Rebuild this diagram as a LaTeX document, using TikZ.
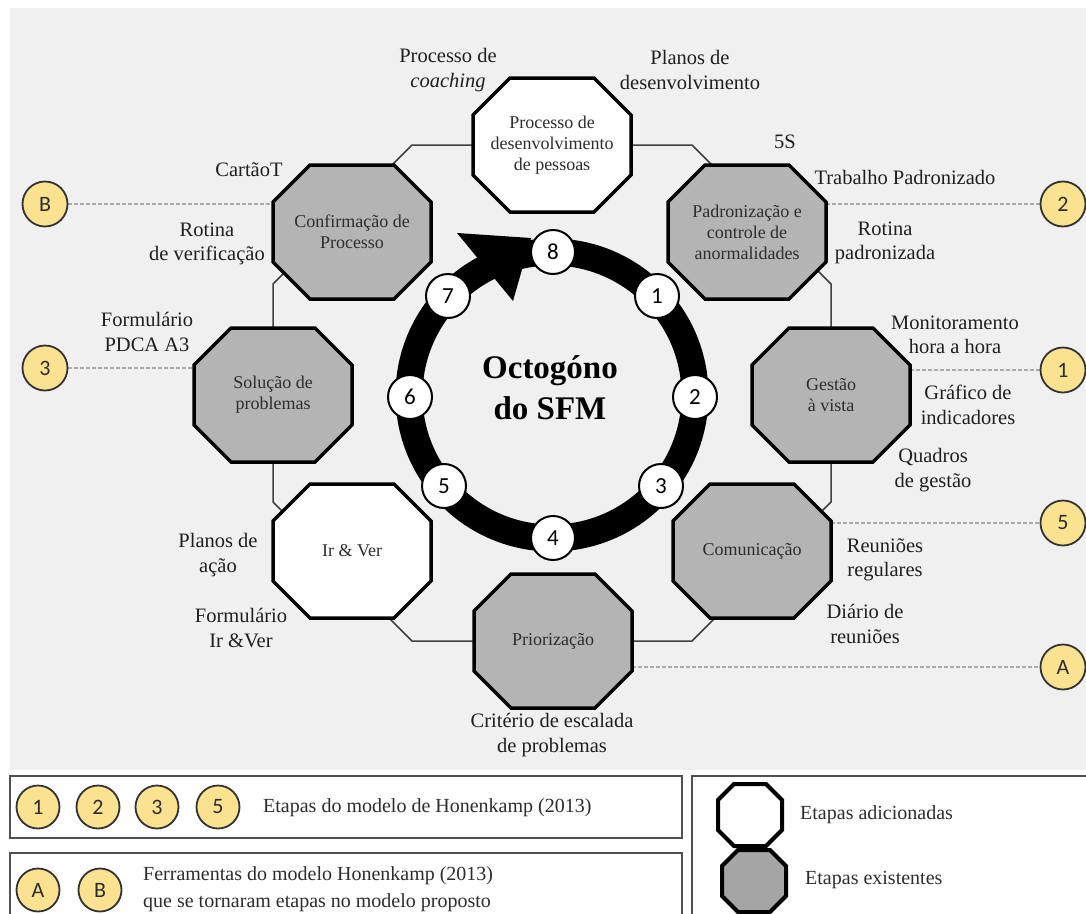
\documentclass[tikz,border=0pt]{standalone}
\usepackage{fontspec}
\setmainfont{Liberation Serif}
\newfontfamily\lblfont{Liberation Serif}
\newfontfamily\digitfont{Carlito}
\usetikzlibrary{backgrounds}
\definecolor{bggrey}{RGB}{240,240,240}
\definecolor{octgrey}{RGB}{180,180,180}
\definecolor{legoct}{RGB}{165,165,165}
\definecolor{circyellow}{RGB}{250,226,145}
\definecolor{txtdark}{RGB}{45,45,45}
\definecolor{dashgrey}{RGB}{170,170,170}
\definecolor{boxline}{RGB}{80,80,80}
\tikzset{
  octline/.style={line width=3.5pt, draw=black, line join=miter},
  octtext/.style={align=center, text=txtdark, font=\lblfont\fontsize{18}{21}\selectfont, inner sep=0pt},
  lbl/.style={align=center, text=black!88, font=\lblfont\fontsize{20.5}{24.5}\selectfont, inner sep=0pt},
  legtext/.style={align=left, anchor=west, text=txtdark, font=\lblfont\fontsize{20}{27}\selectfont, inner sep=0pt},
  conn/.style={draw=black!75, line width=1.5pt},
  guide/.style={draw=dashgrey, line width=1.2pt, dash pattern=on 4pt off 2pt},
  numc/.style={circle, draw=black, line width=2pt, fill=white, minimum size=44pt, inner sep=0pt, font=\digitfont\fontsize{23}{23}\selectfont},
  tagc/.style={circle, draw=black!80, line width=1.8pt, fill=circyellow, minimum size=45pt, inner sep=0pt, font=\digitfont\fontsize{22}{22}\selectfont, text=txtdark},
  legbox/.style={draw=boxline, line width=2pt, fill=white},
}
\newcommand\octnode[4]{%
  \filldraw[octline, fill=#3, shift={(#2)}] (-42,-67) -- (42,-67) -- (79,-30) -- (79,30) -- (42,67) -- (-42,67) -- (-79,30) -- (-79,-30) -- cycle;
  \node[octtext] (#1) at (#2) {#4};}
\begin{document}
\begin{tikzpicture}[x=1pt,y=-1pt]
\useasboundingbox (0,0) rectangle (1086,913);
\begin{pgfonlayer}{background}
\fill[bggrey] (10,8) rectangle (1086,770);
\end{pgfonlayer}

% octagon stages
\octnode{ntop}{552,145}{white}{Processo de\\desenvolvimento\\de pessoas}
\octnode{padr}{747,232}{octgrey}{Padronização e\\controle de\\anormalidades}
\octnode{gest}{831,395}{octgrey}{Gestão\\à vista}
\octnode{comu}{752,551}{octgrey}{Comunicação}
\octnode{prio}{553,641}{octgrey}{Priorização}
\octnode{irver}{352,551}{white}{Ir \& Ver}
\octnode{solu}{273,395}{octgrey}{Solução de\\problemas}
\octnode{conf}{352,232}{octgrey}{Confirmação de\\Processo}

% loop corners
\coordinate (c1) at (692,145); \coordinate (c1i) at (747,200);
\coordinate (c2i) at (790,243); \coordinate (c2) at (831,284);
\coordinate (c3) at (831,502); \coordinate (c3i) at (790,543);
\coordinate (c4i) at (731,602); \coordinate (c4) at (692,641);
\coordinate (c5) at (412,641); \coordinate (c5i) at (373,602);
\coordinate (c6i) at (314,543); \coordinate (c6) at (273,502);
\coordinate (c7) at (273,284); \coordinate (c7i) at (314,243);
\coordinate (c8i) at (357,200); \coordinate (c8) at (412,145);

\begin{pgfonlayer}{background}
\draw[conn] (ntop.center) -- (c1) -- (c1i) -- (padr.center);
\draw[conn] (padr.center) -- (c2i) -- (c2) -- (gest.center);
\draw[conn] (gest.center) -- (c3) -- (c3i) -- (comu.center);
\draw[conn] (comu.center) -- (c4i) -- (c4) -- (prio.center);
\draw[conn] (prio.center) -- (c5) -- (c5i) -- (irver.center);
\draw[conn] (irver.center) -- (c6i) -- (c6) -- (solu.center);
\draw[conn] (solu.center) -- (c7) -- (c7i) -- (conf.center);
\draw[conn] (conf.center) -- (c8i) -- (c8) -- (ntop.center);
\end{pgfonlayer}

% central ring
\coordinate (ring) at (552,395);
\draw[line width=27pt] (ring) circle[radius=143];
\fill (457,233) -- (531,238) -- (513,301) -- cycle;
\node[numc] (n8) at (553,252) {8};
\node[numc] (n1) at (657,296) {1};
\node[numc] (n2) at (695,397) {2};
\node[numc] (n3) at (661,486) {3};
\node[numc] (n4) at (553,538) {4};
\node[numc] (n5) at (444,486) {5};
\node[numc] (n6) at (410,397) {6};
\node[numc] (n7) at (448,296) {7};
\node[font=\lblfont\bfseries\fontsize{33}{41}\selectfont, align=center, inner sep=0pt] (title) at (550,388) {Octogóno\\do SFM};

% tool labels
\node[lbl] (lcoach) at (448,70) {Processo de\\\textit{coaching}};
\node[lbl] (lplanos) at (690,70) {Planos de\\desenvolvimento};
\node[lbl] (l5s) at (785,142) {5S};
\node[lbl] (lcartao) at (249,170) {CartãoT};
\node[lbl] (ltrab) at (905,177) {Trabalho Padronizado};
\node[lbl] (lrotv) at (207,244) {Rotina\\de verificação};
\node[lbl] (lrotp) at (885,243) {Rotina\\padronizada};
\node[lbl] (lpdca) at (147,332) {Formulário\\PDCA A3};
\node[lbl] (lmon) at (955,335) {Monitoramento\\hora a hora};
\node[lbl] (lgraf) at (968,405) {Gráfico de\\indicadores};
\node[lbl] (lquad) at (933,470) {Quadros\\de gestão};
\node[lbl] (lreun) at (885,560) {Reuniões\\regulares};
\node[lbl] (ldiar) at (865,624) {Diário de\\reuniões};
\node[lbl] (lplac) at (218,555) {Planos de\\ação};
\node[lbl] (lform) at (241,628) {Formulário\\Ir \&Ver};
\node[lbl] (lcrit) at (552,735) {Critério de escalada\\de problemas};

% model tags
\node[tagc] (tB) at (45,204) {B};
\node[tagc] (t2) at (1063,204) {2};
\node[tagc] (t3) at (45,368) {3};
\node[tagc] (t1) at (1063,370) {1};
\node[tagc] (t5) at (1063,523) {5};
\node[tagc] (tA) at (1063,667) {A};
\coordinate (gB) at (273,204);
\coordinate (g2) at (826,204);
\coordinate (g3) at (194,368);
\coordinate (g1) at (910,370);
\coordinate (g5) at (831,523);
\coordinate (gA) at (632,667);
\begin{pgfonlayer}{background}
\draw[guide] (tB.east) -- (gB);
\draw[guide] (g2) -- (t2.west);
\draw[guide] (t3.east) -- (g3);
\draw[guide] (g1) -- (t1.west);
\draw[guide] (g5) -- (t5.west);
\draw[guide] (gA) -- (tA.west);
\end{pgfonlayer}

% legend
\draw[legbox] (10,776) rectangle (682,838);
\draw[legbox] (10,853) rectangle (682,930);
\draw[legbox] (692,776) rectangle (1100,930);
\node[tagc, minimum size=43pt] (k1) at (38,807) {1};
\node[tagc, minimum size=43pt] (k2) at (98,807) {2};
\node[tagc, minimum size=43pt] (k3) at (157,807) {3};
\node[tagc, minimum size=43pt] (k5) at (218,807) {5};
\node[legtext] (e1) at (263,808) {Etapas do modelo de Honenkamp (2013)};
\node[tagc, minimum size=43pt] (kA) at (38,890) {A};
\node[tagc, minimum size=43pt] (kB) at (100,890) {B};
\node[legtext] (e2) at (143,889) {Ferramentas do modelo Honenkamp (2013)\\que se tornaram etapas no modelo proposto};
\filldraw[octline, line width=4pt, fill=white, shift={(750,815)}] (-16,-31) -- (16,-31) -- (32,-15) -- (32,15) -- (16,31) -- (-16,31) -- (-32,15) -- (-32,-15) -- cycle;
\filldraw[octline, line width=4pt, fill=legoct, shift={(754,881)}] (-16,-31) -- (16,-31) -- (32,-15) -- (32,15) -- (16,31) -- (-16,31) -- (-32,15) -- (-32,-15) -- cycle;
\node[legtext] (e3) at (800,815) {Etapas adicionadas};
\node[legtext] (e4) at (805,880) {Etapas existentes};
\end{tikzpicture}
\end{document}
